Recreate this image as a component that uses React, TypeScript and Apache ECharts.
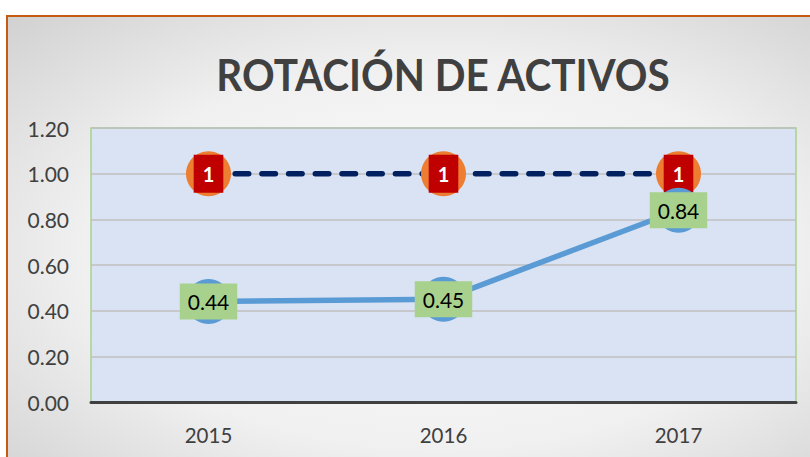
import React, { useEffect, useRef } from "react";
import * as echarts from "echarts";

const TITLE = "ROTACIÓN DE ACTIVOS";
const YEARS = ["2015", "2016", "2017"];
const ROTACION = [0.44, 0.45, 0.84];
const META = [1, 1, 1];
const Y_MIN = 0;
const Y_MAX = 1.2;
const Y_STEP = 0.2;

export default function App() {
  const ref = useRef<HTMLDivElement>(null);
  useEffect(() => {
    if (!ref.current) return;
    const chart = echarts.init(ref.current, null, { renderer: "svg" });
    const font = "Lato";
    chart.setOption({
      animation: false,
      backgroundColor: "#ffffff",
      textStyle: { fontFamily: font },
      graphic: [
        {
          type: "rect",
          z: -10,
          silent: true,
          shape: { x: 7, y: 16, width: 880, height: 480 },
          style: {
            fill: new echarts.graphic.RadialGradient(0.49, 0.5, 0.9, [
              { offset: 0, color: "#ffffff" },
              { offset: 0.45, color: "#f0f0f0" },
              { offset: 1, color: "#bcbcbc" },
            ]),
            stroke: "#C55A11",
            lineWidth: 2,
          },
        },
        {
          type: "text",
          z: 10,
          x: 443,
          y: 74,
          scaleX: 0.92,
          scaleY: 1,
          style: {
            text: TITLE,
            fontFamily: font,
            fontSize: 44,
            fontWeight: "bold",
            fill: "#404040",
            textAlign: "center",
            textVerticalAlign: "middle",
          },
        },
      ],
      grid: {
        left: 91,
        right: 14,
        top: 128,
        bottom: 55,
        show: true,
        backgroundColor: "#DAE3F3",
        borderColor: "#A9D18E",
        borderWidth: 1.5,
      },
      xAxis: {
        type: "category",
        data: YEARS,
        boundaryGap: true,
        axisLine: { show: true, lineStyle: { color: "#404040", width: 3 } },
        axisTick: { show: false },
        axisLabel: { color: "#404040", fontSize: 20.5, margin: 22, fontFamily: font },
      },
      yAxis: {
        type: "value",
        min: Y_MIN,
        max: Y_MAX,
        interval: Y_STEP,
        axisLine: { show: false },
        axisTick: { show: false },
        axisLabel: {
          color: "#404040",
          fontSize: 21,
          margin: 22,
          fontFamily: font,
          formatter: (v: number) => v.toFixed(2),
        },
        splitLine: { lineStyle: { color: "#BFBFBF", width: 1.5 } },
      },
      series: [
        {
          name: "Meta",
          type: "line",
          data: META,
          symbol: "circle",
          symbolSize: 45,
          z: 2,
          itemStyle: { color: "#ED7D31" },
          lineStyle: { color: "#002060", width: 5.5, type: [13.5, 13.2], cap: "round" },
          label: {
            show: true,
            position: "inside",
            formatter: (p: any) => String(p.value),
            color: "#ffffff",
            fontWeight: "bold",
            fontSize: 20,
            lineHeight: 20,
            fontFamily: font,
            backgroundColor: "#C00000",
            padding: [9, 9, 9, 9],
          },
        },
        {
          name: "Rotación",
          type: "line",
          data: ROTACION,
          symbol: "circle",
          symbolSize: 45,
          z: 3,
          itemStyle: { color: "#5B9BD5" },
          lineStyle: { color: "#5B9BD5", width: 5.5 },
          label: {
            show: true,
            position: "inside",
            formatter: (p: any) => Number(p.value).toFixed(2),
            color: "#000000",
            fontSize: 21,
            lineHeight: 20,
            fontFamily: font,
            backgroundColor: "#A9D18E",
            padding: [8, 8, 8, 8],
          },
        },
      ],
    });
    return () => chart.dispose();
  }, []);
  return (
    <div
      ref={ref}
      style={{ position: "fixed", left: 0, top: 0, width: 810, height: 457 }}
    />
  );
}
